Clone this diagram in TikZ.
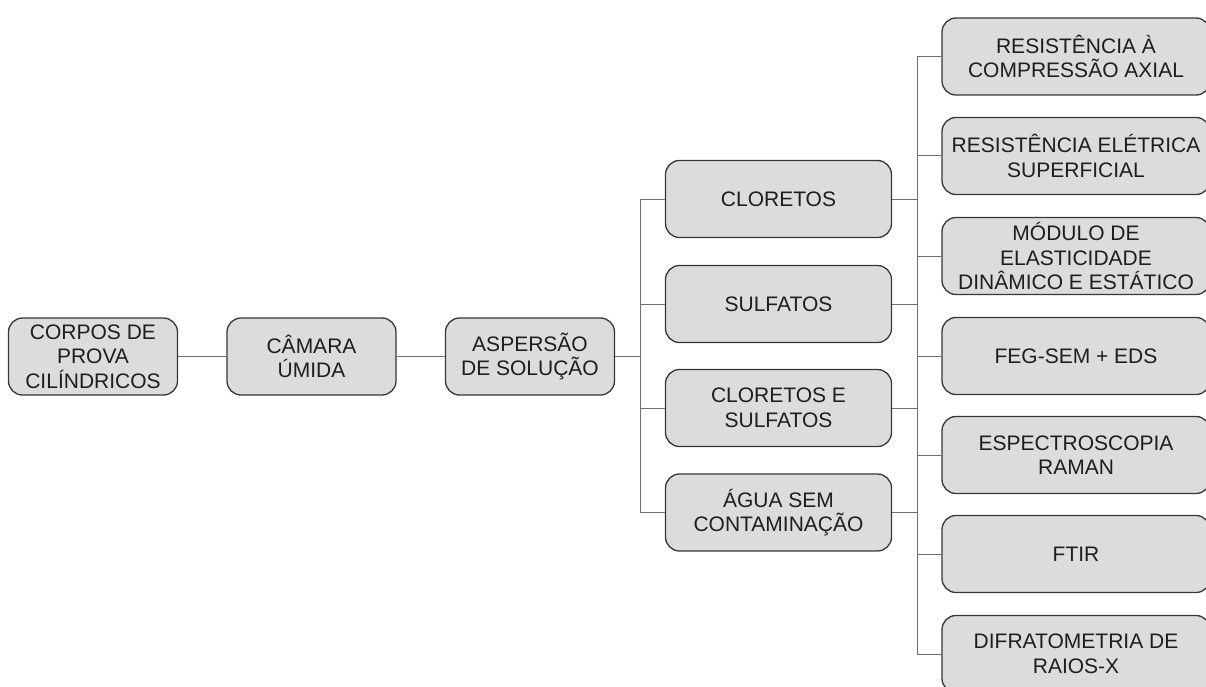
\documentclass[tikz,border=0pt]{standalone}
\usepackage{fontspec}
\setmainfont{Liberation Sans}
\definecolor{boxfill}{RGB}{220,220,220}
\definecolor{boxdraw}{RGB}{55,55,55}
\definecolor{linkc}{RGB}{110,110,110}
\definecolor{txt}{RGB}{30,30,30}
\tikzset{
  box/.style={draw=boxdraw, fill=boxfill, line width=1.3pt, rounded corners=14pt,
    align=center, text=txt, inner sep=0pt,
    font=\fontsize{21}{24.5}\selectfont, minimum height=77pt},
  leftbox/.style={box, minimum width=169pt},
  midbox/.style={box, minimum width=226pt},
  rightbox/.style={box, minimum width=268pt},
  link/.style={draw=linkc, line width=1pt}
}
\begin{document}
\begin{tikzpicture}[x=1pt,y=-1pt]
\useasboundingbox (0,0) rectangle (1206,687);
% left chain
\node[leftbox] (corpos) at (93,356.5) {CORPOS DE\\PROVA\\CILÍNDRICOS};
\node[leftbox] (camara) at (311.5,356.5) {CÂMARA\\ÚMIDA};
\node[leftbox] (asp) at (530,356.5) {ASPERSÃO\\DE SOLUÇÃO};
% middle
\node[midbox] (clo) at (778.5,199) {CLORETOS};
\node[midbox] (sul) at (778.5,304) {SULFATOS};
\node[midbox] (closul) at (778.5,408) {CLORETOS E\\SULFATOS};
\node[midbox] (agua) at (778.5,512.5) {ÁGUA SEM\\CONTAMINAÇÃO};
% right
\node[rightbox] (r1) at (1076,56.5) {RESISTÊNCIA À\\COMPRESSÃO AXIAL};
\node[rightbox] (r2) at (1076,156) {RESISTÊNCIA ELÉTRICA\\SUPERFICIAL};
\node[rightbox] (r3) at (1076,256) {MÓDULO DE\\ELASTICIDADE\\DINÂMICO E ESTÁTICO};
\node[rightbox] (r4) at (1076,356) {FEG-SEM + EDS};
\node[rightbox] (r5) at (1076,455) {ESPECTROSCOPIA\\RAMAN};
\node[rightbox] (r6) at (1076,554) {FTIR};
\node[rightbox] (r7) at (1076,654) {DIFRATOMETRIA DE\\RAIOS-X};
% trunks
\coordinate (tL) at (640,356.5);
\coordinate (tLtop) at (640,199);
\coordinate (tLbot) at (640,512.5);
\coordinate (tR) at (917,356);
\coordinate (tRtop) at (917,56.5);
\coordinate (tRbot) at (917,654);
% connectors
\draw[link] (corpos.east) -- (camara.west);
\draw[link] (camara.east) -- (asp.west);
\draw[link] (asp.east) -- (tL);
\draw[link] (tLtop) -- (tLbot);
\foreach \m in {clo,sul,closul,agua}{
  \draw[link] (\m.west -| tL) -- (\m.west);
  \draw[link] (\m.east) -- (\m.east -| tR);
}
\draw[link] (tRtop) -- (tRbot);
\foreach \r in {r1,r2,r3,r4,r5,r6,r7}{
  \draw[link] (\r.west -| tR) -- (\r.west);
}
\end{tikzpicture}
\end{document}
